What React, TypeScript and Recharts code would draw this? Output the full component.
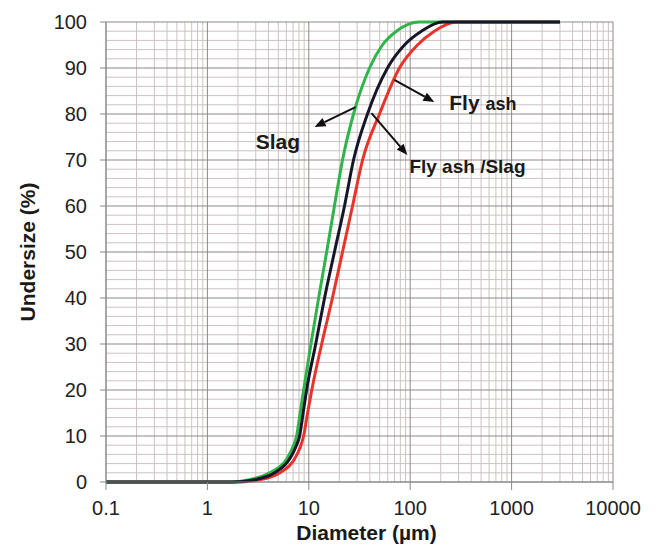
import React from 'react';
import { LineChart, Line, XAxis, YAxis, ReferenceLine, ReferenceDot } from 'recharts';

// Slag (green)
const slagDiameter = [0.1, 1, 1.66, 2.6, 4.1, 6.05, 6.93, 7.59, 8.21, 8.89, 10.5, 12.5, 15.0, 17.9, 21.5, 27.6, 39.7, 53.2, 73.1, 123, 3000];
const slagUndersize = [0, 0, 0, 0.5, 2, 5, 7.5, 10, 15, 20, 30, 40, 50, 60, 70, 80, 90, 95, 98, 100, 100];

// Fly ash / Slag blend (black)
const blendDiameter = [0.1, 1, 1.75, 2.93, 4.6, 6.47, 7.41, 8.11, 8.79, 9.51, 11.7, 14.3, 17.9, 22.5, 27.6, 37.9, 59.7, 87.7, 129, 207, 3000];
const blendUndersize = [0, 0, 0, 0.5, 2, 5, 7.5, 10, 15, 20, 30, 40, 50, 60, 70, 80, 90, 95, 98, 100, 100];

// Fly ash (red)
const flyAshDiameter = [0.1, 1, 1.85, 3.3, 5.2, 7.24, 8.21, 8.89, 9.73, 10.7, 13.4, 17.1, 21.5, 27.0, 33.9, 49.8, 78.3, 118, 173, 285, 3000];
const flyAshUndersize = [0, 0, 0, 0.5, 2, 5, 7.5, 10, 15, 20, 30, 40, 50, 60, 70, 80, 90, 95, 98, 100, 100];

const xTicks = [0.1, 1, 10, 100, 1000, 10000];
const yTicks = [0, 10, 20, 30, 40, 50, 60, 70, 80, 90, 100];

const toPoints = (ds: number[], vs: number[]) => ds.map((d, i) => ({ d, v: vs[i] }));
const slagData = toPoints(slagDiameter, slagUndersize);
const blendData = toPoints(blendDiameter, blendUndersize);
const flyAshData = toPoints(flyAshDiameter, flyAshUndersize);

// grid positions
const decades = [0.1, 1, 10, 100, 1000];
const xMinor: number[] = [];
decades.forEach((dec) => {
  for (let k = 2; k <= 9; k++) xMinor.push(+(dec * k).toPrecision(3));
});
const xMajor = xTicks;
const yMinor: number[] = [];
for (let v = 2; v < 100; v += 2) if (v % 10 !== 0) yMinor.push(v);
const yMajor = yTicks;

const FONT = '"Liberation Sans", Arial, sans-serif';

const arrowShape = (props: any) => {
  const { x1, y1, x2, y2 } = props;
  const ang = Math.atan2(y2 - y1, x2 - x1);
  const len = 11;
  const w = 4.5;
  const bx = x2 - len * Math.cos(ang);
  const by = y2 - len * Math.sin(ang);
  const px = -Math.sin(ang) * w;
  const py = Math.cos(ang) * w;
  return (
    <g>
      <line x1={x1} y1={y1} x2={bx} y2={by} stroke="#111" strokeWidth={2} />
      <polygon points={`${x2},${y2} ${bx + px},${by + py} ${bx - px},${by - py}`} fill="#111" />
    </g>
  );
};

const textShape = (content: React.ReactNode) => (props: any) => (
  <text x={props.cx} y={props.cy} fontFamily={FONT} fontWeight="bold" fill="#1a1a1a">
    {content}
  </text>
);

export default function App() {
  return (
    <LineChart
      width={648}
      height={545}
      margin={{ top: 14, right: 43, left: 0, bottom: 6 }}
      style={{ fontFamily: FONT }}
    >
      <XAxis
        dataKey="d"
        type="number"
        scale="log"
        domain={[0.1, 10000]}
        ticks={xTicks}
        allowDataOverflow
        height={65}
        tickSize={8}
        tickMargin={11}
        tick={{ fontSize: 20, fill: '#222', fontFamily: FONT }}
        axisLine={{ stroke: '#888' }}
        tickLine={{ stroke: '#888' }}
        label={({ viewBox }: any) => (
          <text
            x={viewBox.x + viewBox.width / 2 + 7}
            y={viewBox.y + 58}
            textAnchor="middle"
            fontSize={21}
            fontWeight="bold"
            fontFamily={FONT}
            fill="#1a1a1a"
          >
            Diameter (µm)
          </text>
        )}
      />
      <YAxis
        dataKey="v"
        type="number"
        domain={[0, 100]}
        ticks={yTicks}
        width={98}
        tickSize={6}
        tickMargin={13}
        tick={{ fontSize: 20, fill: '#222', fontFamily: FONT }}
        axisLine={{ stroke: '#888' }}
        tickLine={{ stroke: '#888' }}
        label={({ viewBox }: any) => {
          const x = viewBox.x + 19;
          const y = viewBox.y + viewBox.height / 2;
          return (
            <text
              x={x}
              y={y}
              transform={`rotate(-90, ${x}, ${y})`}
              textAnchor="middle"
              dominantBaseline="central"
              fontSize={21}
              fontWeight="bold"
              fontFamily={FONT}
              fill="#1a1a1a"
            >
              Undersize (%)
            </text>
          );
        }}
      />
      {xMinor.map((x) => (
        <ReferenceLine key={'xm' + x} x={x} stroke="#cdc2c2" strokeWidth={1} />
      ))}
      {yMinor.map((y) => (
        <ReferenceLine key={'ym' + y} y={y} stroke="#cdc2c2" strokeWidth={1} />
      ))}
      {xMajor.map((x) => (
        <ReferenceLine key={'xM' + x} x={x} stroke="#8f8888" strokeWidth={1} />
      ))}
      {yMajor.map((y) => (
        <ReferenceLine key={'yM' + y} y={y} stroke="#8f8888" strokeWidth={1} />
      ))}
      <Line data={flyAshData} dataKey="v" type="monotone" stroke="#e8332b" strokeWidth={3} dot={false} isAnimationActive={false} />
      <Line data={slagData} dataKey="v" type="monotone" stroke="#2fb34a" strokeWidth={3} dot={false} isAnimationActive={false} />
      <Line data={blendData} dataKey="v" type="monotone" stroke="#16162a" strokeWidth={3} dot={false} isAnimationActive={false} />
      <ReferenceLine segment={[{ x: 28.9, y: 81.5 }, { x: 11.4, y: 77.2 }]} shape={arrowShape} />
      <ReferenceLine segment={[{ x: 69.8, y: 87.4 }, { x: 173, y: 82.6 }]} shape={arrowShape} />
      <ReferenceLine segment={[{ x: 41.5, y: 80.2 }, { x: 93.8, y: 71.1 }]} shape={arrowShape} />
      <ReferenceDot x={2.99} y={72.5} r={0} shape={textShape(<tspan fontSize={21}>Slag</tspan>)} />
      <ReferenceDot
        x={243}
        y={80.9}
        r={0}
        shape={textShape(
          <>
            <tspan fontSize={21}>Fly </tspan>
            <tspan fontSize={18}>ash</tspan>
          </>
        )}
      />
      <ReferenceDot x={98.2} y={67.2} r={0} shape={textShape(<tspan fontSize={19}>Fly ash /Slag</tspan>)} />
    </LineChart>
  );
}
